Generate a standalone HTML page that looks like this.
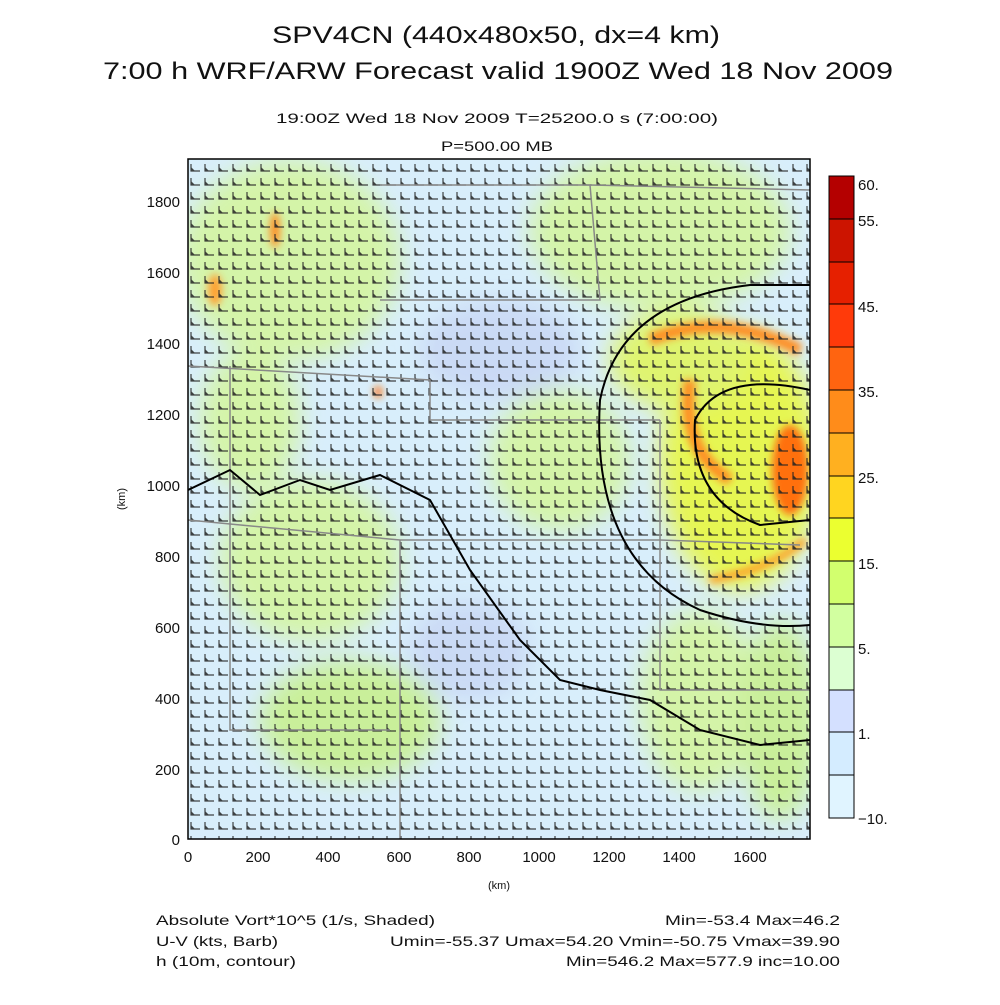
<!DOCTYPE html>
<html><head><style>
body{margin:0;background:#fff;}
svg text{font-family:"Liberation Sans",sans-serif;fill:#111;}
</style></head><body>
<svg width="1000" height="1000" xmlns="http://www.w3.org/2000/svg">
<defs>
<pattern id="barb" x="188" y="160" width="14" height="14" patternUnits="userSpaceOnUse">
<path d="M3,4 L3,11 L12,11" stroke="#222" stroke-width="1.2" fill="none"/>
<path d="M3,7 L7,11 L3,11 Z" fill="#222"/>
</pattern>
<filter id="bl" x="-20%" y="-20%" width="140%" height="140%"><feGaussianBlur stdDeviation="12"/></filter>
<filter id="bl2"><feGaussianBlur stdDeviation="4"/></filter>
<clipPath id="cp"><rect x="188" y="159" width="622" height="680"/></clipPath>
</defs>
<text x="272" y="43" font-size="24" textLength="448" lengthAdjust="spacingAndGlyphs">SPV4CN (440x480x50, dx=4 km)</text>
<text x="103" y="79" font-size="24" textLength="790" lengthAdjust="spacingAndGlyphs">7:00 h WRF/ARW Forecast valid 1900Z Wed 18 Nov 2009</text>
<text x="276" y="123" font-size="14" textLength="442" lengthAdjust="spacingAndGlyphs">19:00Z Wed 18 Nov 2009     T=25200.0 s (7:00:00)</text>
<text x="441" y="151" font-size="14" textLength="112" lengthAdjust="spacingAndGlyphs">P=500.00 MB</text>
<g clip-path="url(#cp)">
<rect x="188" y="159" width="622" height="680" fill="#d8eefb"/>
<g filter="url(#bl)" opacity="0.9">
<ellipse cx="290" cy="260" rx="110" ry="100" fill="#d4f5a0"/>
<ellipse cx="660" cy="230" rx="130" ry="80" fill="#d4f5a0"/>
<ellipse cx="560" cy="460" rx="70" ry="70" fill="#d4f5a0"/>
<ellipse cx="310" cy="560" rx="90" ry="80" fill="#d4f5a0"/>
<ellipse cx="250" cy="420" rx="50" ry="70" fill="#d4f5a0"/>
<ellipse cx="350" cy="720" rx="90" ry="60" fill="#c8f090"/>
<ellipse cx="700" cy="700" rx="60" ry="90" fill="#d4f5a0"/>
<ellipse cx="780" cy="720" rx="40" ry="100" fill="#c8f090"/>
<ellipse cx="470" cy="650" rx="60" ry="50" fill="#c9d8f5"/>
<ellipse cx="500" cy="350" rx="80" ry="50" fill="#c9d8f5"/>
<ellipse cx="740" cy="460" rx="80" ry="130" fill="#e8f740"/>
<ellipse cx="680" cy="360" rx="70" ry="50" fill="#e0f560"/>
</g>
<g filter="url(#bl2)">
<path d="M650,340 Q720,310 800,350" stroke="#ff8c20" stroke-width="12" fill="none"/>
<path d="M690,380 Q680,450 730,480" stroke="#ff8c20" stroke-width="12" fill="none"/>
<ellipse cx="790" cy="470" rx="18" ry="45" fill="#ff7010"/>
<path d="M710,580 Q770,570 805,540" stroke="#ff9a20" stroke-width="7" fill="none"/>
<ellipse cx="275" cy="230" rx="5" ry="18" fill="#ff8c20"/>
<ellipse cx="215" cy="290" rx="7" ry="16" fill="#ffa030"/>
<ellipse cx="378" cy="392" rx="4" ry="6" fill="#ff7010"/>
</g>
<rect x="188" y="159" width="622" height="680" fill="url(#barb)" opacity="0.85"/>
<g stroke="#888" stroke-width="1.5" fill="none">
<path d="M188,366 L430,380 L430,420 L660,420"/>
<path d="M188,520 L400,540 L660,540 L800,545"/>
<path d="M380,185 L590,185 L600,300 L380,300"/>
<path d="M590,185 L810,190"/>
<path d="M400,540 L400,840"/>
<path d="M660,420 L660,690 L810,690"/>
<path d="M230,366 L230,730 L390,730"/>
</g>
<g stroke="#000" stroke-width="2" fill="none">
<path d="M188,490 L230,470 L260,495 L300,480 L330,490 L380,475 L430,500 L470,570 L520,640 L560,680 L600,690 L650,700 L700,730 L760,745 L810,740"/>
<path d="M810,285 L750,285 Q620,300 600,400 Q590,560 700,610 Q760,630 810,625"/>
<path d="M810,390 Q720,370 695,420 Q690,500 760,525 L810,520"/>
</g>
</g>
<rect x="188" y="159" width="622" height="680" fill="none" stroke="#000" stroke-width="1.5"/>
<g font-size="15" text-anchor="middle">
<text x="188" y="862">0</text><text x="258" y="862">200</text><text x="328" y="862">400</text><text x="399" y="862">600</text><text x="469" y="862">800</text><text x="539" y="862">1000</text><text x="609" y="862">1200</text><text x="679" y="862">1400</text><text x="750" y="862">1600</text>
</g>
<g font-size="15" text-anchor="end">
<text x="180" y="845">0</text><text x="180" y="775">200</text><text x="180" y="704">400</text><text x="180" y="633">600</text><text x="180" y="562">800</text><text x="180" y="491">1000</text><text x="180" y="420">1200</text><text x="180" y="349">1400</text><text x="180" y="278">1600</text><text x="180" y="207">1800</text>
</g>
<text x="499" y="889" font-size="11" text-anchor="middle">(km)</text>
<text x="125" y="499" font-size="11" text-anchor="middle" transform="rotate(-90 125 499)">(km)</text>
<g stroke="#000" stroke-width="1">
<rect x="829" y="176" width="25" height="43" fill="#b40000"/>
<rect x="829" y="219" width="25" height="43" fill="#cc1400"/>
<rect x="829" y="262" width="25" height="42" fill="#e62000"/>
<rect x="829" y="304" width="25" height="43" fill="#ff3a0a"/>
<rect x="829" y="347" width="25" height="43" fill="#ff6410"/>
<rect x="829" y="390" width="25" height="43" fill="#ff8c1a"/>
<rect x="829" y="433" width="25" height="43" fill="#ffb020"/>
<rect x="829" y="476" width="25" height="42" fill="#ffd520"/>
<rect x="829" y="518" width="25" height="43" fill="#ebff30"/>
<rect x="829" y="561" width="25" height="43" fill="#d2ff6e"/>
<rect x="829" y="604" width="25" height="43" fill="#d2ffa0"/>
<rect x="829" y="647" width="25" height="43" fill="#dcffd2"/>
<rect x="829" y="690" width="25" height="42" fill="#d4e0ff"/>
<rect x="829" y="732" width="25" height="43" fill="#d4ecff"/>
<rect x="829" y="775" width="25" height="43" fill="#e0f4ff"/>
</g>
<g font-size="15">
<text x="858" y="190">60.</text><text x="858" y="226">55.</text><text x="858" y="312">45.</text><text x="858" y="397">35.</text><text x="858" y="483">25.</text><text x="858" y="569">15.</text><text x="858" y="654">5.</text><text x="858" y="739">1.</text><text x="858" y="824">−10.</text>
</g>
<g font-size="14">
<text x="156" y="925" textLength="279" lengthAdjust="spacingAndGlyphs">Absolute Vort*10^5 (1/s, Shaded)</text>
<text x="156" y="946" textLength="122" lengthAdjust="spacingAndGlyphs">U-V (kts, Barb)</text>
<text x="156" y="966" textLength="140" lengthAdjust="spacingAndGlyphs">h (10m, contour)</text>
<text x="665" y="925" textLength="175" lengthAdjust="spacingAndGlyphs">Min=-53.4 Max=46.2</text>
<text x="390" y="946" textLength="450" lengthAdjust="spacingAndGlyphs">Umin=-55.37 Umax=54.20 Vmin=-50.75 Vmax=39.90</text>
<text x="566" y="966" textLength="274" lengthAdjust="spacingAndGlyphs">Min=546.2 Max=577.9 inc=10.00</text>
</g>
</svg>
</body></html>
